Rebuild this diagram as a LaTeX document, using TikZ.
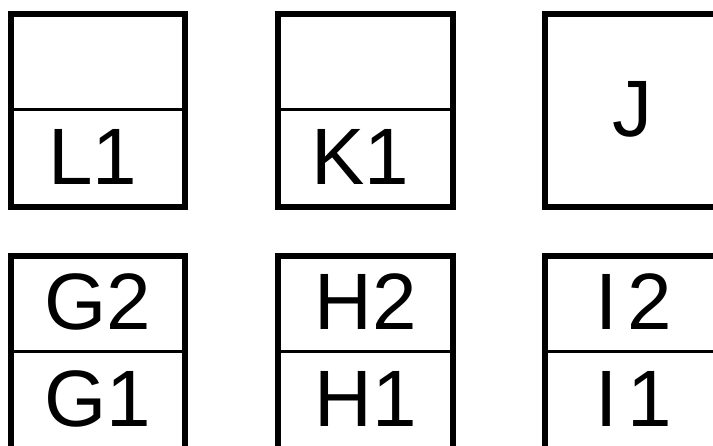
\documentclass[tikz,border=0pt]{standalone}
\usepackage{fontspec}
\setmainfont{Liberation Sans}
\begin{document}
\begin{tikzpicture}[x=1pt, y=-1pt, line join=miter,
    cell/.style={line width=6pt},
    split/.style={line width=3pt},
    tag/.style={anchor=base, inner sep=0pt, font=\fontsize{80}{80}\selectfont}]
  \useasboundingbox (0,0) rectangle (713,446);
  % Top row: two split boxes and the plain J box
  \draw[cell] (11,14) rectangle (185,207);
  \draw[split] (11,110) -- (185,110);
  \draw[cell] (278,14) rectangle (453,207);
  \draw[split] (278,110) -- (453,110);
  \draw[cell] (545,14) rectangle (722,207);
  \node[tag] (l1) at (93,185) {L1};
  \node[tag] (k1) at (360,185) {K1};
  \node[tag] (j) at (632,137) {J};
  % Bottom row (runs past the lower edge)
  \draw[cell] (11,256) rectangle (185,452);
  \draw[split] (11,352) -- (185,352);
  \draw[cell] (278,256) rectangle (453,452);
  \draw[split] (278,352) -- (453,352);
  \draw[cell] (545,256) rectangle (722,452);
  \draw[split] (545,352) -- (722,352);
  \node[tag] (g2) at (98,330) {G2};
  \node[tag] (g1) at (98,427) {G1};
  \node[tag] (h2) at (366,330) {H2};
  \node[tag] (h1) at (366,427) {H1};
  \node[tag] (i2) at (634,330) {I\kern10pt 2};
  \node[tag] (i1) at (634,427) {I\kern10pt 1};
\end{tikzpicture}
\end{document}
